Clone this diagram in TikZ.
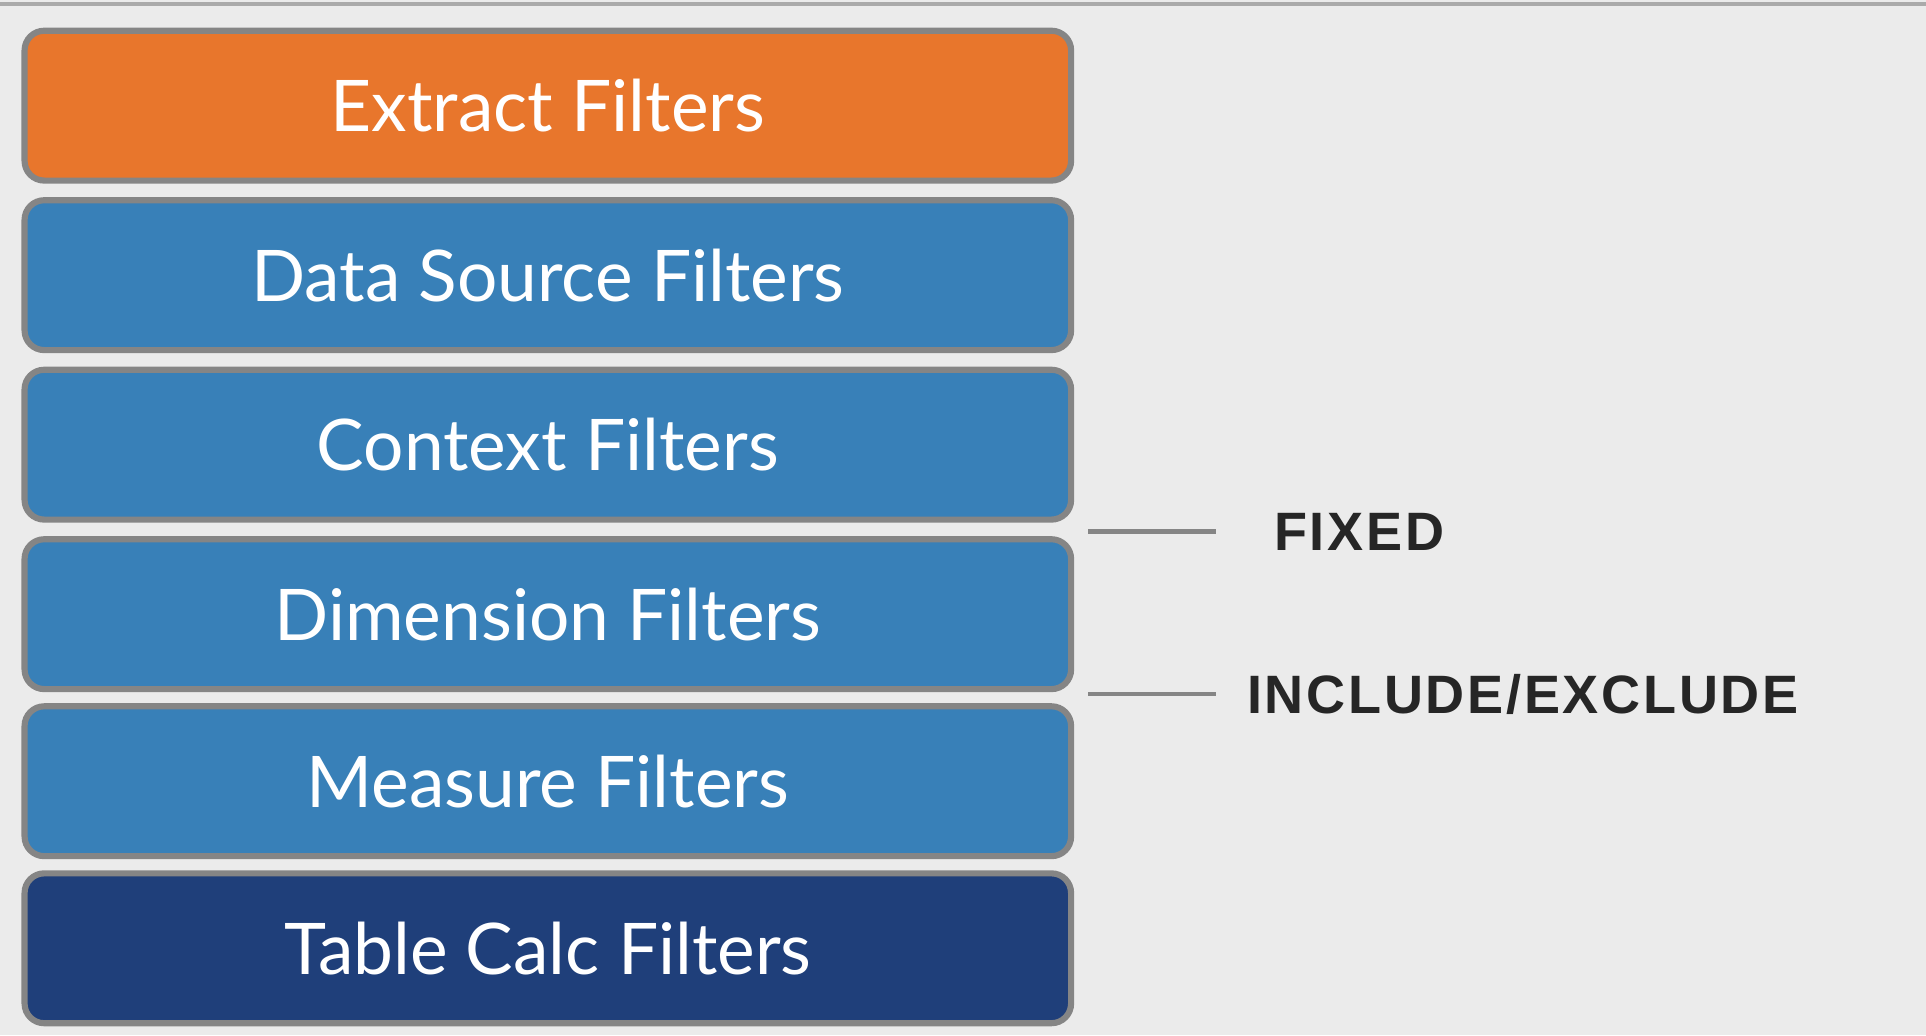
\documentclass[tikz,border=0pt]{standalone}
\usepackage{fontspec}
\setmainfont{Lato}
\newfontfamily\labfont{Liberation Sans}
\definecolor{bg}{HTML}{EBEBEB}
\definecolor{orng}{HTML}{E8762C}
\definecolor{blu}{HTML}{3880B8}
\definecolor{dblu}{HTML}{1F3F7A}
\definecolor{edge}{HTML}{858585}
\newcommand\lsp{\kern1.1pt}
\begin{document}
\begin{tikzpicture}[x=0.5pt,y=-0.5pt,
  layer/.style={draw=edge,line width=2.5pt,rounded corners=8pt,minimum width=426pt,minimum height=61pt,inner sep=0pt,text=white,font=\fontsize{29}{32}\selectfont},
  lab/.style={font=\labfont\bfseries\fontsize{22}{26}\selectfont,text=black!85,anchor=west,inner sep=0pt},
  tick/.style={draw=edge,line width=2pt}]
\fill[bg] (0,0) rectangle (1568,843);
\useasboundingbox (0,0) rectangle (1568,843);
\draw[edge!70,line width=1.5pt] (0,3) -- (1568,3);
\node[layer,fill=orng] (ex) at (446,86) {Extract Filters};
\node[layer,fill=blu] (ds) at (446,224) {Data Source Filters};
\node[layer,fill=blu] (cx) at (446,362) {Context Filters};
\node[layer,fill=blu] (dm) at (446,500) {Dimension Filters};
\node[layer,fill=blu] (ms) at (446,636) {Measure Filters};
\node[layer,fill=dblu] (tc) at (446,772) {Table Calc Filters};
\coordinate (f1) at (886,433); \coordinate (f2) at (990,433);
\coordinate (i1) at (886,565); \coordinate (i2) at (990,565);
\draw[tick] (f1) -- (f2);
\draw[tick] (i1) -- (i2);
\node[lab] (fixed) at (1037,433) {F\lsp I\lsp X\lsp E\lsp D};
\node[lab] (incl) at (1015,565) {I\lsp N\lsp C\lsp L\lsp U\lsp D\lsp E\lsp /\lsp E\lsp X\lsp C\lsp L\lsp U\lsp D\lsp E};
\end{tikzpicture}
\end{document}
